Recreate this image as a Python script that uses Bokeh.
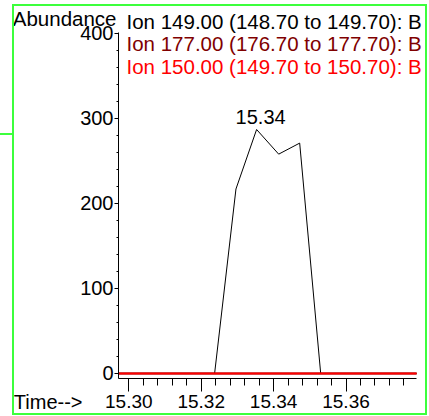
from bokeh.plotting import figure
from bokeh.models import FixedTicker, Label, Range1d, LinearAxis, InlineStyleSheet, Title
from bokeh.embed import file_html
from bokeh.resources import INLINE

# ---- data ----
ion149_time = [15.2972, 15.3237, 15.3296, 15.3353, 15.3414, 15.3472, 15.3530, 15.3795]
ion149_abund = [0, 0, 217, 287, 258, 271, 0, 0]
ion177_time = [15.2972, 15.3795]
ion177_abund = [0, 0]
ion150_time = [15.2972, 15.3795]
ion150_abund = [0, 0]

peak_time = 15.3353
peak_abund = 287
peak_label = "15.34"

x_ticks = [15.30, 15.32, 15.34, 15.36]
x_tick_labels = ["15.30", "15.32", "15.34", "15.36"]
y_ticks = [0, 100, 200, 300, 400]
y_tick_labels = ["0", "100", "200", "300", "400"]

y_title = "Abundance"
x_title = "Time-->"
legend_texts = ["Ion 149.00 (148.70 to 149.70): B",
                "Ion 177.00 (176.70 to 177.70): B",
                "Ion 150.00 (149.70 to 150.70): B"]
legend_colors = ["#000000", "#800000", "#ff0000"]

FONT = "Liberation Sans"
X_BOUNDS = (15.29715, 15.3795)
Y_BOUNDS = (-6, 401.1)
LEGEND_Y = [357, 335, 312]

p = figure(width=427, height=416, output_backend="svg", toolbar_location=None,
           x_range=Range1d(15.29715, 15.38251), y_range=Range1d(-6, 438.8),
           min_border_left=118, min_border_right=0, min_border_top=0, min_border_bottom=38)
p.outline_line_color = None
p.grid.visible = False
p.background_fill_color = "white"
p.border_fill_color = "white"
p.stylesheets = [InlineStyleSheet(css="""
:host { position: relative; }
:host::after { content: ''; position: absolute; left: 12px; top: 4px; width: 415px; height: 411px;
  box-sizing: border-box; border: 2px solid #3cff3c; pointer-events: none; z-index: 10; }
:host::before { content: ''; position: absolute; left: 0px; top: 133px; width: 12px; height: 2px;
  background: #3cff3c; pointer-events: none; z-index: 10; }
""")]

p.line(ion149_time, ion149_abund, line_color="#000000", line_width=1)
p.line(ion177_time, ion177_abund, line_color="#800000", line_width=2)
p.line(ion150_time, ion150_abund, line_color="#ff0000", line_width=2)

# main axes
xa = p.xaxis[0]
xa.bounds = X_BOUNDS
xa.ticker = FixedTicker(ticks=x_ticks,
                        minor_ticks=[round(15.300 + 0.004 * i, 3) for i in range(20)])
xa.major_label_overrides = dict(zip(x_ticks, x_tick_labels))
xa.major_tick_in = 0
xa.major_tick_out = 13
xa.minor_tick_in = 0
xa.minor_tick_out = 7
xa.major_label_standoff = 3
xa.major_label_text_font = FONT
xa.major_label_text_font_size = "19px"
xa.major_label_text_color = "black"

ya = p.yaxis[0]
ya.bounds = Y_BOUNDS
ya.ticker = FixedTicker(ticks=y_ticks, minor_ticks=[20 * i for i in range(21)])
ya.major_label_overrides = dict(zip(y_ticks, y_tick_labels))
ya.major_tick_in = 0
ya.major_tick_out = 4
ya.minor_tick_in = 0
ya.minor_tick_out = 2
ya.major_label_standoff = 1
ya.major_label_text_font = FONT
ya.major_label_text_font_size = "20px"
ya.major_label_text_color = "black"

# "Abundance" as a label-only axis in the left panel
ab_axis = LinearAxis(ticker=FixedTicker(ticks=[418], minor_ticks=[]),
                     bounds=(417, 419),
                     major_label_overrides={418: y_title},
                     axis_line_color=None, major_tick_line_color=None,
                     minor_tick_line_color=None, major_tick_in=0, major_tick_out=0,
                     minor_tick_in=0, minor_tick_out=0,
                     major_label_standoff=-39,
                     major_label_text_font=FONT, major_label_text_font_size="20.5px",
                     major_label_text_color="black")
p.add_layout(ab_axis, "left")

# "Time-->" as a left-aligned title in the bottom panel
p.add_layout(Title(text=x_title, align="left", offset=-104.7, standoff=-40,
                   vertical_align="top", text_font=FONT, text_font_size="20px",
                   text_font_style="normal", text_color="black"), "below")

# texts inside the frame
for ly, t, c in zip(LEGEND_Y, legend_texts, legend_colors):
    p.add_layout(Label(x=8, y=ly, x_units="screen", y_units="screen", text=t,
                       text_font=FONT, text_font_size="20.5px", text_baseline="alphabetic",
                       text_color=c))
p.add_layout(Label(x=peak_time, y=peak_abund, x_offset=4, y_offset=13, text=peak_label,
                   text_font=FONT, text_font_size="20px", text_align="center",
                   text_baseline="alphabetic", text_color="black"))

open("out.html", "w").write(file_html(p, INLINE))
